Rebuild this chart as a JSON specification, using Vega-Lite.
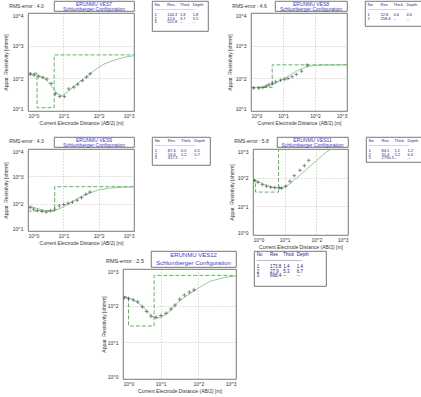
{
  "$schema": "https://vega.github.io/schema/vega-lite/v6.json",
  "background": "white",
  "padding": 0,
  "datasets": {
    "c7": [{"ab2":1,"rho":140},{"ab2":1.5,"rho":134},{"ab2":2,"rho":122},{"ab2":3,"rho":96},{"ab2":4,"rho":72},{"ab2":5,"rho":52},{"ab2":6,"rho":40},{"ab2":7,"rho":33},{"ab2":8.5,"rho":30},{"ab2":10,"rho":31},{"ab2":13,"rho":38},{"ab2":18,"rho":52},{"ab2":25,"rho":70},{"ab2":40,"rho":100},{"ab2":60,"rho":145},{"ab2":90,"rho":200},{"ab2":140,"rho":270},{"ab2":220,"rho":330},{"ab2":340,"rho":385},{"ab2":520,"rho":440},{"ab2":800,"rho":475},{"ab2":1000,"rho":487}],
    "s7": [{"i":0,"ab2":1,"rho":144.3},{"i":1,"ab2":1.8,"rho":144.3},{"i":2,"ab2":1.8,"rho":12.6},{"i":3,"ab2":5.5,"rho":12.6},{"i":4,"ab2":5.5,"rho":521.8},{"i":5,"ab2":1000,"rho":521.8}],
    "o7": [{"ab2":1.16,"rho":132},{"ab2":1.48,"rho":126},{"ab2":2,"rho":115},{"ab2":2.64,"rho":107},{"ab2":3.42,"rho":95},{"ab2":4.53,"rho":70},{"ab2":6,"rho":33.5},{"ab2":7.94,"rho":27.8},{"ab2":10.7,"rho":27.8},{"ab2":14.2,"rho":47.5},{"ab2":19.7,"rho":53.4},{"ab2":25.5,"rho":65.8},{"ab2":34.5,"rho":84.9},{"ab2":45.6,"rho":109.6},{"ab2":57.9,"rho":138}],
    "t7": [{"r":1,"No":"No","Res":"Res","Thick":"Thick","Depth":"Depth"},{"r":3.7,"No":"1","Res":"144.3","Thick":"1.8","Depth":"1.8"},{"r":4.7,"No":"2","Res":"12.6","Thick":"3.7","Depth":"5.5"},{"r":5.7,"No":"3","Res":"521.8","Thick":"--","Depth":"--"}],
    "c8": [{"ab2":1,"rho":52.8},{"ab2":2,"rho":53.5},{"ab2":3,"rho":56},{"ab2":4,"rho":60},{"ab2":5,"rho":66},{"ab2":7,"rho":78},{"ab2":10,"rho":95},{"ab2":15,"rho":120},{"ab2":20,"rho":142},{"ab2":30,"rho":178},{"ab2":50,"rho":218},{"ab2":70,"rho":236},{"ab2":100,"rho":248},{"ab2":200,"rho":256},{"ab2":500,"rho":258},{"ab2":1000,"rho":258.4}],
    "s8": [{"i":0,"ab2":1,"rho":52.8},{"i":1,"ab2":4.6,"rho":52.8},{"i":2,"ab2":4.6,"rho":258.4},{"i":3,"ab2":1000,"rho":258.4}],
    "o8": [{"ab2":1.21,"rho":50},{"ab2":1.75,"rho":50},{"ab2":2.33,"rho":52},{"ab2":2.97,"rho":58},{"ab2":3.6,"rho":64},{"ab2":4.6,"rho":70},{"ab2":5.9,"rho":78},{"ab2":8.4,"rho":88},{"ab2":11.3,"rho":93},{"ab2":14.4,"rho":99},{"ab2":19.2,"rho":112},{"ab2":26,"rho":132},{"ab2":38,"rho":166},{"ab2":57,"rho":253}],
    "t8": [{"r":1,"No":"No","Res":"Res","Thick":"Thick","Depth":"Depth"},{"r":3.7,"No":"1","Res":"52.8","Thick":"4.6","Depth":"4.6"},{"r":4.7,"No":"2","Res":"258.4","Thick":"--","Depth":"--"}],
    "c9": [{"ab2":1,"rho":85},{"ab2":1.5,"rho":72},{"ab2":2,"rho":64},{"ab2":3,"rho":56},{"ab2":4,"rho":54},{"ab2":5,"rho":55},{"ab2":7,"rho":61},{"ab2":10,"rho":76},{"ab2":15,"rho":103},{"ab2":20,"rho":128},{"ab2":30,"rho":172},{"ab2":50,"rho":235},{"ab2":100,"rho":318},{"ab2":200,"rho":370},{"ab2":500,"rho":402},{"ab2":1000,"rho":412}],
    "s9": [{"i":0,"ab2":0.3,"rho":87.6},{"i":1,"ab2":0.5,"rho":87.6},{"i":2,"ab2":0.5,"rho":53.6},{"i":3,"ab2":5.7,"rho":53.6},{"i":4,"ab2":5.7,"rho":417.5},{"i":5,"ab2":1000,"rho":417.5}],
    "o9": [{"ab2":1.16,"rho":72},{"ab2":1.45,"rho":63},{"ab2":1.88,"rho":56},{"ab2":2.5,"rho":53},{"ab2":3.24,"rho":49},{"ab2":4.3,"rho":55},{"ab2":5.7,"rho":63},{"ab2":7.7,"rho":83},{"ab2":10.3,"rho":93},{"ab2":13.7,"rho":104},{"ab2":18.1,"rho":113},{"ab2":24.6,"rho":133},{"ab2":32.6,"rho":166},{"ab2":43.3,"rho":220},{"ab2":56.3,"rho":267}],
    "t9": [{"r":1,"No":"No","Res":"Res","Thick":"Thick","Depth":"Depth"},{"r":3.7,"No":"1","Res":"87.6","Thick":"0.5","Depth":"0.5"},{"r":4.7,"No":"2","Res":"53.6","Thick":"5.2","Depth":"5.7"},{"r":5.7,"No":"3","Res":"417.5","Thick":"--","Depth":"--"}],
    "c11": [{"ab2":1,"rho":84.5},{"ab2":1.5,"rho":72},{"ab2":2,"rho":62},{"ab2":3,"rho":52},{"ab2":4,"rho":47.5},{"ab2":5,"rho":45},{"ab2":6,"rho":44},{"ab2":8,"rho":44.5},{"ab2":10,"rho":48},{"ab2":13,"rho":56},{"ab2":16,"rho":66},{"ab2":20,"rho":82},{"ab2":30,"rho":120},{"ab2":50,"rho":200},{"ab2":100,"rho":390},{"ab2":200,"rho":760},{"ab2":300,"rho":1000},{"ab2":400,"rho":1300}],
    "s11": [{"i":0,"ab2":1,"rho":84.5},{"i":1,"ab2":1.2,"rho":84.5},{"i":2,"ab2":1.2,"rho":31.4},{"i":3,"ab2":6.4,"rho":31.4},{"i":4,"ab2":6.4,"rho":2790.3},{"i":5,"ab2":1000,"rho":2790.3}],
    "o11": [{"ab2":1.13,"rho":78.6},{"ab2":1.44,"rho":68.8},{"ab2":1.98,"rho":57},{"ab2":2.66,"rho":50},{"ab2":3.65,"rho":46},{"ab2":4.89,"rho":44.8},{"ab2":6.72,"rho":43.6},{"ab2":7.95,"rho":42.5},{"ab2":10.7,"rho":50},{"ab2":14.7,"rho":74.5},{"ab2":20.1,"rho":117},{"ab2":30.5,"rho":180},{"ab2":41.9,"rho":262},{"ab2":57.5,"rho":403}],
    "t11": [{"r":1,"No":"No","Res":"Res","Thick":"Thick","Depth":"Depth"},{"r":3.7,"No":"1","Res":"84.5","Thick":"1.2","Depth":"1.2"},{"r":4.7,"No":"2","Res":"31.4","Thick":"5.2","Depth":"6.4"},{"r":5.7,"No":"3","Res":"2790.3","Thick":"--","Depth":"--"}],
    "c12": [{"ab2":1,"rho":172},{"ab2":1.5,"rho":160},{"ab2":2,"rho":140},{"ab2":3,"rho":104},{"ab2":4,"rho":78},{"ab2":5,"rho":60},{"ab2":6,"rho":51},{"ab2":7,"rho":47},{"ab2":8.5,"rho":46},{"ab2":10,"rho":48},{"ab2":13,"rho":56},{"ab2":16,"rho":66},{"ab2":20,"rho":82},{"ab2":30,"rho":130},{"ab2":50,"rho":190},{"ab2":100,"rho":300},{"ab2":200,"rho":460},{"ab2":500,"rho":590},{"ab2":1000,"rho":645}],
    "s12": [{"i":0,"ab2":1,"rho":173.8},{"i":1,"ab2":1.4,"rho":173.8},{"i":2,"ab2":1.4,"rho":27.9},{"i":3,"ab2":6.7,"rho":27.9},{"i":4,"ab2":6.7,"rho":668.4},{"i":5,"ab2":1000,"rho":668.4}],
    "o12": [{"ab2":1.08,"rho":165},{"ab2":1.39,"rho":156},{"ab2":1.88,"rho":143},{"ab2":2.45,"rho":127},{"ab2":3.26,"rho":93},{"ab2":4.25,"rho":70},{"ab2":5.54,"rho":51.6},{"ab2":7.52,"rho":48.5},{"ab2":10.2,"rho":53.7},{"ab2":13.9,"rho":62},{"ab2":18.8,"rho":81},{"ab2":24,"rho":103},{"ab2":31.9,"rho":150},{"ab2":42.5,"rho":195},{"ab2":57.7,"rho":234},{"ab2":76.7,"rho":270}],
    "t12": [{"r":1,"No":"No","Res":"Res","Thick":"Thick","Depth":"Depth"},{"r":3.7,"No":"1","Res":"173.8","Thick":"1.4","Depth":"1.4"},{"r":4.7,"No":"2","Res":"27.9","Thick":"5.3","Depth":"6.7"},{"r":5.7,"No":"3","Res":"668.4","Thick":"--","Depth":"--"}]
  },
  "vconcat": [
    {
      "hconcat": [
        {
          "vconcat": [
            {"hconcat": [
              {"width": 53, "height": 9, "data": {"values": [{"t": "RMS-error :    4.0"}]}, "mark": {"type": "text", "fontSize": 5, "color": "#333"}, "encoding": {"text": {"field": "t"}}},
              {"width": 80, "height": 10, "data": {"values": [{"k": 0, "t": "ERUNMU VES7"}, {"k": 1, "t": "Schlumberger Configuration"}]}, "mark": {"type": "text", "fontSize": 5, "color": "#3c3cc8"}, "encoding": {"y": {"field": "k", "type": "ordinal", "axis": null, "scale": {"type": "point", "padding": 0.5}}, "text": {"field": "t"}}}
            ], "spacing": 0},
            {"hconcat": [
              {"width": 27, "height": 98, "data": {"values": []}, "mark": "point", "view": {"stroke": null},
               "encoding": {"y": {"field": "rho", "type": "quantitative", "scale": {"type": "log", "domain": [10, 10000], "nice": false}, "axis": {"values": [10, 100, 1000, 10000], "title": "Appar. Resistivity [ohmm]", "offset": -27, "grid": false, "labelFlush": true, "minExtent": 14, "maxExtent": 14, "titlePadding": 5}}}},
              {
                "width": 106, "height": 98,
                "encoding": {
                  "x": {"field": "ab2", "type": "quantitative", "scale": {"type": "log", "domain": [1, 1000], "nice": false}, "axis": {"values": [1, 10, 100, 1000], "title": "Current Electrode Distance (AB/2) [m]"}},
                  "y": {"field": "rho", "type": "quantitative", "scale": {"type": "log", "domain": [10, 10000], "nice": false}, "axis": {"values": [10, 100, 1000, 10000], "labels": false, "title": null, "minExtent": 0, "maxExtent": 0}}
                },
                "layer": [
                  {"data": {"name": "c7"}, "mark": {"type": "line", "color": "#72c472", "strokeWidth": 0.8, "clip": true}},
                  {"data": {"name": "s7"}, "mark": {"type": "line", "color": "#5cb85c", "strokeWidth": 1, "strokeDash": [4, 2], "clip": true}, "encoding": {"order": {"field": "i", "type": "quantitative"}}},
                  {"data": {"name": "o7"}, "mark": {"type": "point", "shape": "M-1,0H1M0,-1V1", "size": 14, "color": "#222", "strokeWidth": 0.7, "filled": false, "clip": true}}
                ]
              }
            ], "spacing": 0}
          ],
          "spacing": 0
        },
        {
          "width": 56, "height": 30,
          "encoding": {"y": {"field": "r", "type": "quantitative", "axis": null, "scale": {"domain": [8, 0]}}},
          "layer": [
            {"data": {"name": "t7"}, "transform": [{"fold": ["No", "Res", "Thick", "Depth"], "as": ["col", "val"]}], "mark": {"type": "text", "fontSize": 4, "color": "#22227a", "align": "left"}, "encoding": {"x": {"field": "col", "type": "nominal", "axis": null, "scale": {"type": "point", "domain": ["No", "Res", "Thick", "Depth", "_a"], "padding": 0.2}}, "text": {"field": "val"}}},
            {"data": {"values": [{"r": 2.2, "t": "------------------------------"}]}, "mark": {"type": "text", "fontSize": 4, "color": "#22227a", "align": "left"}, "encoding": {"x": {"datum": "No", "type": "nominal"}, "text": {"field": "t"}}}
          ]
        },
        {
          "vconcat": [
            {"hconcat": [
              {"width": 49, "height": 9, "data": {"values": [{"t": "RMS-error :    4.6"}]}, "mark": {"type": "text", "fontSize": 5, "color": "#333"}, "encoding": {"text": {"field": "t"}}},
              {"width": 72, "height": 10, "data": {"values": [{"k": 0, "t": "ERUNMU VES8"}, {"k": 1, "t": "Schlumberger Configuration"}]}, "mark": {"type": "text", "fontSize": 5, "color": "#3c3cc8"}, "encoding": {"y": {"field": "k", "type": "ordinal", "axis": null, "scale": {"type": "point", "padding": 0.5}}, "text": {"field": "t"}}}
            ], "spacing": 0},
            {"hconcat": [
              {"width": 25, "height": 98, "data": {"values": []}, "mark": "point", "view": {"stroke": null},
               "encoding": {"y": {"field": "rho", "type": "quantitative", "scale": {"type": "log", "domain": [10, 10000], "nice": false}, "axis": {"values": [10, 100, 1000, 10000], "title": "Appar. Resistivity [ohmm]", "offset": -25, "grid": false, "labelFlush": true, "minExtent": 14, "maxExtent": 14, "titlePadding": 4}}}},
              {
                "width": 96, "height": 98,
                "encoding": {
                  "x": {"field": "ab2", "type": "quantitative", "scale": {"type": "log", "domain": [1, 1000], "nice": false}, "axis": {"values": [1, 10, 100, 1000], "title": "Current Electrode Distance (AB/2) [m]"}},
                  "y": {"field": "rho", "type": "quantitative", "scale": {"type": "log", "domain": [10, 10000], "nice": false}, "axis": {"values": [10, 100, 1000, 10000], "labels": false, "title": null, "minExtent": 0, "maxExtent": 0}}
                },
                "layer": [
                  {"data": {"name": "c8"}, "mark": {"type": "line", "color": "#72c472", "strokeWidth": 0.8, "clip": true}},
                  {"data": {"name": "s8"}, "mark": {"type": "line", "color": "#5cb85c", "strokeWidth": 1, "strokeDash": [4, 2], "clip": true}, "encoding": {"order": {"field": "i", "type": "quantitative"}}},
                  {"data": {"name": "o8"}, "mark": {"type": "point", "shape": "M-1,0H1M0,-1V1", "size": 14, "color": "#222", "strokeWidth": 0.7, "filled": false, "clip": true}}
                ]
              }
            ], "spacing": 0}
          ],
          "spacing": 0
        },
        {
          "width": 57, "height": 25,
          "encoding": {"y": {"field": "r", "type": "quantitative", "axis": null, "scale": {"domain": [6.7, 0]}}},
          "layer": [
            {"data": {"name": "t8"}, "transform": [{"fold": ["No", "Res", "Thick", "Depth"], "as": ["col", "val"]}], "mark": {"type": "text", "fontSize": 4, "color": "#22227a", "align": "left"}, "encoding": {"x": {"field": "col", "type": "nominal", "axis": null, "scale": {"type": "point", "domain": ["No", "Res", "Thick", "Depth", "_a"], "padding": 0.2}}, "text": {"field": "val"}}},
            {"data": {"values": [{"r": 2.2, "t": "------------------------------"}]}, "mark": {"type": "text", "fontSize": 4, "color": "#22227a", "align": "left"}, "encoding": {"x": {"datum": "No", "type": "nominal"}, "text": {"field": "t"}}}
          ]
        }
      ],
      "spacing": 16
    },
    {
      "vconcat": [
        {
          "hconcat": [
            {
              "vconcat": [
                {"hconcat": [
                  {"width": 53, "height": 8, "data": {"values": [{"t": "RMS-error :    4.3"}]}, "mark": {"type": "text", "fontSize": 5, "color": "#333"}, "encoding": {"text": {"field": "t"}}},
                  {"width": 80, "height": 10, "data": {"values": [{"k": 0, "t": "ERUNMU VES9"}, {"k": 1, "t": "Schlumberger Configuration"}]}, "mark": {"type": "text", "fontSize": 5, "color": "#3c3cc8"}, "encoding": {"y": {"field": "k", "type": "ordinal", "axis": null, "scale": {"type": "point", "padding": 0.5}}, "text": {"field": "t"}}}
                ], "spacing": 0},
                {"hconcat": [
                  {"width": 27, "height": 82, "data": {"values": []}, "mark": "point", "view": {"stroke": null},
                   "encoding": {"y": {"field": "rho", "type": "quantitative", "scale": {"type": "log", "domain": [10, 10000], "nice": false}, "axis": {"values": [10, 100, 1000, 10000], "title": "Appar. Resistivity [ohmm]", "offset": -27, "grid": false, "labelFlush": true, "minExtent": 14, "maxExtent": 14, "titlePadding": 5}}}},
                  {
                    "width": 106, "height": 82,
                    "encoding": {
                      "x": {"field": "ab2", "type": "quantitative", "scale": {"type": "log", "domain": [1, 1000], "nice": false}, "axis": {"values": [1, 10, 100, 1000], "title": "Current Electrode Distance (AB/2) [m]"}},
                      "y": {"field": "rho", "type": "quantitative", "scale": {"type": "log", "domain": [10, 10000], "nice": false}, "axis": {"values": [10, 100, 1000, 10000], "labels": false, "title": null, "minExtent": 0, "maxExtent": 0}}
                    },
                    "layer": [
                      {"data": {"name": "c9"}, "mark": {"type": "line", "color": "#72c472", "strokeWidth": 0.8, "clip": true}},
                      {"data": {"name": "s9"}, "mark": {"type": "line", "color": "#5cb85c", "strokeWidth": 1, "strokeDash": [4, 2], "clip": true}, "encoding": {"order": {"field": "i", "type": "quantitative"}}},
                      {"data": {"name": "o9"}, "mark": {"type": "point", "shape": "M-1,0H1M0,-1V1", "size": 14, "color": "#222", "strokeWidth": 0.7, "filled": false, "clip": true}}
                    ]
                  }
                ], "spacing": 0}
              ],
              "spacing": 0
            },
            {
              "width": 58, "height": 28,
              "encoding": {"y": {"field": "r", "type": "quantitative", "axis": null, "scale": {"domain": [7.5, 0]}}},
              "layer": [
                {"data": {"name": "t9"}, "transform": [{"fold": ["No", "Res", "Thick", "Depth"], "as": ["col", "val"]}], "mark": {"type": "text", "fontSize": 4, "color": "#22227a", "align": "left"}, "encoding": {"x": {"field": "col", "type": "nominal", "axis": null, "scale": {"type": "point", "domain": ["No", "Res", "Thick", "Depth", "_a"], "padding": 0.2}}, "text": {"field": "val"}}},
                {"data": {"values": [{"r": 2.2, "t": "------------------------------"}]}, "mark": {"type": "text", "fontSize": 4, "color": "#22227a", "align": "left"}, "encoding": {"x": {"datum": "No", "type": "nominal"}, "text": {"field": "t"}}}
              ]
            },
            {
              "vconcat": [
                {"hconcat": [
                  {"width": 49, "height": 8, "data": {"values": [{"t": "RMS-error :    5.8"}]}, "mark": {"type": "text", "fontSize": 5, "color": "#333"}, "encoding": {"text": {"field": "t"}}},
                  {"width": 71, "height": 10, "data": {"values": [{"k": 0, "t": "ERUNMU VES11"}, {"k": 1, "t": "Schlumberger Configuration"}]}, "mark": {"type": "text", "fontSize": 5, "color": "#3c3cc8"}, "encoding": {"y": {"field": "k", "type": "ordinal", "axis": null, "scale": {"type": "point", "padding": 0.5}}, "text": {"field": "t"}}}
                ], "spacing": 0},
                {"hconcat": [
                  {"width": 25, "height": 86, "data": {"values": []}, "mark": "point", "view": {"stroke": null},
                   "encoding": {"y": {"field": "rho", "type": "quantitative", "scale": {"type": "log", "domain": [1, 1000], "nice": false}, "axis": {"values": [1, 10, 100, 1000], "title": "Appar. Resistivity [ohmm]", "offset": -25, "grid": false, "labelFlush": true, "minExtent": 14, "maxExtent": 14, "titlePadding": 4}}}},
                  {
                    "width": 95, "height": 86,
                    "encoding": {
                      "x": {"field": "ab2", "type": "quantitative", "scale": {"type": "log", "domain": [1, 1000], "nice": false}, "axis": {"values": [1, 10, 100, 1000], "title": "Current Electrode Distance (AB/2) [m]"}},
                      "y": {"field": "rho", "type": "quantitative", "scale": {"type": "log", "domain": [1, 1000], "nice": false}, "axis": {"values": [1, 10, 100, 1000], "labels": false, "title": null, "minExtent": 0, "maxExtent": 0}}
                    },
                    "layer": [
                      {"data": {"name": "c11"}, "mark": {"type": "line", "color": "#72c472", "strokeWidth": 0.8, "clip": true}},
                      {"data": {"name": "s11"}, "mark": {"type": "line", "color": "#5cb85c", "strokeWidth": 1, "strokeDash": [4, 2], "clip": true}, "encoding": {"order": {"field": "i", "type": "quantitative"}}},
                      {"data": {"name": "o11"}, "mark": {"type": "point", "shape": "M-1,0H1M0,-1V1", "size": 14, "color": "#222", "strokeWidth": 0.7, "filled": false, "clip": true}}
                    ]
                  }
                ], "spacing": 0}
              ],
              "spacing": 0
            },
            {
              "width": 57, "height": 25,
              "encoding": {"y": {"field": "r", "type": "quantitative", "axis": null, "scale": {"domain": [6.7, 0]}}},
              "layer": [
                {"data": {"name": "t11"}, "transform": [{"fold": ["No", "Res", "Thick", "Depth"], "as": ["col", "val"]}], "mark": {"type": "text", "fontSize": 4, "color": "#22227a", "align": "left"}, "encoding": {"x": {"field": "col", "type": "nominal", "axis": null, "scale": {"type": "point", "domain": ["No", "Res", "Thick", "Depth", "_a"], "padding": 0.2}}, "text": {"field": "val"}}},
                {"data": {"values": [{"r": 2.2, "t": "------------------------------"}]}, "mark": {"type": "text", "fontSize": 4, "color": "#22227a", "align": "left"}, "encoding": {"x": {"datum": "No", "type": "nominal"}, "text": {"field": "t"}}}
              ]
            }
          ],
          "spacing": 16
        },
        {
          "hconcat": [
            {"width": 84, "height": 10, "data": {"values": []}, "mark": "point", "view": {"stroke": null}},
            {
              "vconcat": [
                {"hconcat": [
                  {
                    "vconcat": [
                      {"width": 50, "height": 6, "data": {"values": []}, "mark": "point", "view": {"stroke": null}},
                      {"width": 50, "height": 8, "data": {"values": [{"t": "RMS-error :    2.5"}]}, "mark": {"type": "text", "fontSize": 5.5, "color": "#333"}, "encoding": {"text": {"field": "t"}}}
                    ],
                    "spacing": 0
                  },
                  {"width": 85, "height": 16, "data": {"values": [{"k": 0, "t": "ERUNMU VES12"}, {"k": 1, "t": "Schlumberger Configuration"}]}, "mark": {"type": "text", "fontSize": 6, "color": "#3c3cc8"}, "encoding": {"y": {"field": "k", "type": "ordinal", "axis": null, "scale": {"type": "point", "padding": 0.5}}, "text": {"field": "t"}}}
                ], "spacing": 0},
                {"hconcat": [
                  {"width": 22, "height": 110, "data": {"values": []}, "mark": "point", "view": {"stroke": null},
                   "encoding": {"y": {"field": "rho", "type": "quantitative", "scale": {"type": "log", "domain": [1, 1000], "nice": false}, "axis": {"values": [1, 10, 100, 1000], "title": "Appar. Resistivity [ohmm]", "offset": -22, "grid": false, "labelFlush": true, "minExtent": 14, "maxExtent": 14, "titlePadding": 2}}}},
                  {
                    "width": 113, "height": 110,
                    "encoding": {
                      "x": {"field": "ab2", "type": "quantitative", "scale": {"type": "log", "domain": [1, 1000], "nice": false}, "axis": {"values": [1, 10, 100, 1000], "title": "Current Electrode Distance (AB/2) [m]"}},
                      "y": {"field": "rho", "type": "quantitative", "scale": {"type": "log", "domain": [1, 1000], "nice": false}, "axis": {"values": [1, 10, 100, 1000], "labels": false, "title": null, "minExtent": 0, "maxExtent": 0}}
                    },
                    "layer": [
                      {"data": {"name": "c12"}, "mark": {"type": "line", "color": "#72c472", "strokeWidth": 0.8, "clip": true}},
                      {"data": {"name": "s12"}, "mark": {"type": "line", "color": "#5cb85c", "strokeWidth": 1, "strokeDash": [4, 2], "clip": true}, "encoding": {"order": {"field": "i", "type": "quantitative"}}},
                      {"data": {"name": "o12"}, "mark": {"type": "point", "shape": "M-1,0H1M0,-1V1", "size": 16, "color": "#222", "strokeWidth": 0.7, "filled": false, "clip": true}}
                    ]
                  }
                ], "spacing": 0}
              ],
              "spacing": 0
            },
            {
              "width": 72, "height": 35,
              "encoding": {"y": {"field": "r", "type": "quantitative", "axis": null, "scale": {"domain": [8, 0]}}},
              "layer": [
                {"data": {"name": "t12"}, "transform": [{"fold": ["No", "Res", "Thick", "Depth"], "as": ["col", "val"]}], "mark": {"type": "text", "fontSize": 4.5, "color": "#22227a", "align": "left"}, "encoding": {"x": {"field": "col", "type": "nominal", "axis": null, "scale": {"type": "point", "domain": ["No", "Res", "Thick", "Depth", "_a", "_b"], "padding": 0.2}}, "text": {"field": "val"}}},
                {"data": {"values": [{"r": 2.3, "t": "------------------------------"}]}, "mark": {"type": "text", "fontSize": 4.5, "color": "#22227a", "align": "left"}, "encoding": {"x": {"datum": "No", "type": "nominal"}, "text": {"field": "t"}}}
              ]
            }
          ],
          "spacing": 16
        }
      ],
      "spacing": 0
    }
  ],
  "spacing": 10,
  "config": {
    "font": "Liberation Sans",
    "view": {"stroke": "#555", "strokeWidth": 0.8},
    "axis": {"domain": false, "ticks": false, "grid": true, "gridColor": "#999", "gridDash": [1, 2], "gridWidth": 0.6, "labelFontSize": 5, "labelColor": "#333", "titleFontSize": 5, "titleFontWeight": "normal", "titleColor": "#333", "labelExpr": "'10^' + round(log(datum.value) / LN10)"},
    "axisX": {"labelPadding": 2, "titlePadding": 2, "labelFlush": true},
    "axisY": {"labelPadding": 4}
  }
}
